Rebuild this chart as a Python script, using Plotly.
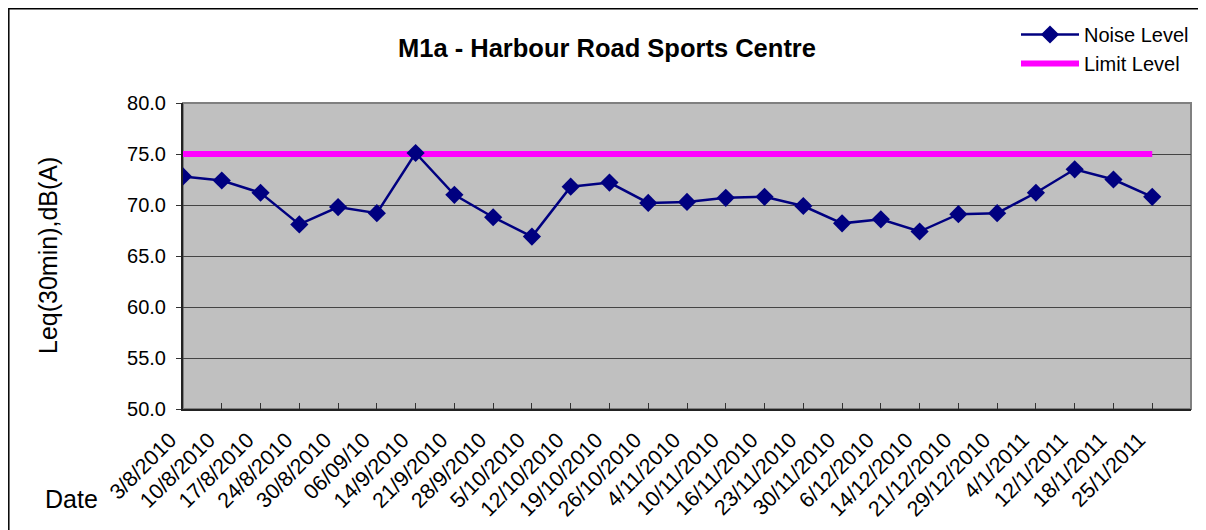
import plotly.graph_objects as go

dates = ["3/8/2010", "10/8/2010", "17/8/2010", "24/8/2010", "30/8/2010", "06/09/10",
         "14/9/2010", "21/9/2010", "28/9/2010", "5/10/2010", "12/10/2010", "19/10/2010",
         "26/10/2010", "4/11/2010", "10/11/2010", "16/11/2010", "23/11/2010", "30/11/2010",
         "6/12/2010", "14/12/2010", "21/12/2010", "29/12/2010", "4/1/2011", "12/1/2011",
         "18/1/2011", "25/1/2011"]
noise_level = [72.8, 72.4, 71.2, 68.1, 69.8, 69.2, 75.1, 71.0, 68.8, 66.9, 71.8, 72.2,
               70.2, 70.3, 70.7, 70.8, 69.9, 68.2, 68.6, 67.4, 69.1, 69.2, 71.2, 73.5,
               72.5, 70.8]
limit_level = [75.0] * len(dates)

FONT = "Liberation Sans, Arial, sans-serif"
OFF = 8  # page body margin
W, H = 1206 - OFF, 530 - OFF
L, R, T, B = 183 - OFF, 1191 - OFF, 103 - OFF, 409 - OFF
pw, ph = R - L, B - T

def px_x(x):
    return (x - OFF - L) / pw

def px_y(y):
    return (B - (y - OFF)) / ph

fig = go.Figure()
fig.add_trace(go.Scatter(
    x=dates, y=limit_level, mode="lines", name="Limit Level",
    line=dict(color="#FF00FF", width=6), legendrank=2, hoverinfo="skip"))
fig.add_trace(go.Scatter(
    x=dates, y=noise_level, mode="lines+markers", name="Noise Level",
    line=dict(color="#000080", width=2.5),
    marker=dict(symbol="diamond", size=14, color="#000080"), legendrank=1))

fig.update_layout(
    width=W, height=H,
    margin=dict(l=L, r=W - R, t=T, b=H - B, autoexpand=False),
    paper_bgcolor="white", plot_bgcolor="#C0C0C0",
    font=dict(family=FONT, color="black", size=19),
    title=dict(text="<b>M1a - Harbour Road Sports Centre</b>",
               x=(607 - OFF) / W, xref="container", xanchor="center",
               y=1 - (48 - OFF) / H, yref="container", yanchor="middle",
               font=dict(size=25.5, family=FONT, color="black")),
    showlegend=True,
    legend=dict(x=px_x(1016), y=px_y(15), xanchor="left", yanchor="top",
                bgcolor="rgba(0,0,0,0)", font=dict(size=20, family=FONT),
                itemwidth=58, tracegroupgap=0),
    xaxis=dict(type="category", range=[0, 26], showgrid=False,
               ticks="inside", ticklen=6, tickcolor="#333333",
               tickangle=-45, tickfont=dict(size=21.5), ticklabelstandoff=8,
               ticklabelshift=-13,
               showline=True, linecolor="#222222", linewidth=2,
               zeroline=False, automargin=False),
    yaxis=dict(range=[50, 80], dtick=5, tickformat=".1f",
               showgrid=True, gridcolor="#444444", gridwidth=1,
               ticks="outside", ticklen=5, tickcolor="#333333",
               tickfont=dict(size=20), ticklabelstandoff=6,
               showline=True, linecolor="#222222", linewidth=2,
               zeroline=False, automargin=False),
    shapes=[
        dict(type="rect", xref="paper", yref="paper", x0=0, x1=1, y0=0, y1=1,
             line=dict(color="#808080", width=2), layer="below"),
        dict(type="rect", xref="paper", yref="paper",
             x0=px_x(8.8), x1=px_x(1240), y0=px_y(600), y1=px_y(8.8),
             line=dict(color="black", width=1.5)),
    ],
    annotations=[
        dict(text="Leq(30min),dB(A)", xref="paper", yref="paper",
             x=px_x(48), y=px_y(256), xanchor="center", yanchor="middle",
             textangle=-90, showarrow=False, font=dict(size=25, family=FONT)),
        dict(text="Date", xref="paper", yref="paper",
             x=px_x(71), y=px_y(499), xanchor="center", yanchor="middle",
             showarrow=False, font=dict(size=25, family=FONT)),
    ],
)

fig.write_html("out.html")
